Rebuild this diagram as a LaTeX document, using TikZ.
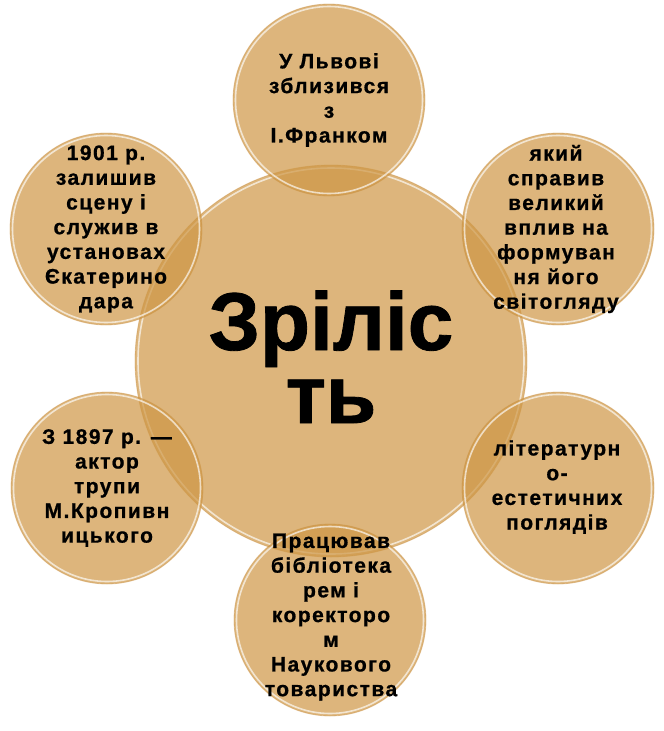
\documentclass[tikz,border=0pt]{standalone}
\usepackage{fontspec}
\setmainfont{Liberation Sans}
\definecolor{disc}{RGB}{206,150,68}
\definecolor{rimdark}{RGB}{200,140,60}
\tikzset{
  bigdisc/.style={circle, minimum size=392pt, inner sep=0pt, fill=disc, fill opacity=0.7, draw=none},
  satdisc/.style={circle, minimum size=192pt, inner sep=0pt, fill=disc, fill opacity=0.7, draw=none},
  rimout/.style={draw=rimdark, draw opacity=0.4, line width=0.8pt},
  rimin/.style={draw=white, draw opacity=0.65, line width=1.6pt},
  sattext/.style={align=center, inner sep=0pt, text=black,
    font=\fontsize{21}{24.7}\selectfont\bfseries\addfontfeature{LetterSpace=7,FakeBold=0.8}},
  bigtext/.style={inner sep=0pt, text=black,
    font=\fontsize{82}{73}\selectfont\bfseries\addfontfeature{FakeBold=1}}
}
\begin{document}
\begin{tikzpicture}[x=1pt,y=-1pt]
\useasboundingbox (0,0) rectangle (664,731);
% central disc
\node[bigdisc] (core) at (331,361) {};
\draw[rimout] (core.center) circle (196pt);
\draw[rimin] (core.center) circle (193pt);
% satellites
\node[satdisc] (s1) at (329,100) {};
\node[satdisc] (s2) at (558,229) {};
\node[satdisc] (s3) at (558,488) {};
\node[satdisc] (s4) at (330,620) {};
\node[satdisc] (s5) at (107,488) {};
\node[satdisc] (s6) at (106,229) {};
\foreach \n in {s1,s2,s3,s4,s5,s6}{
  \draw[rimout] (\n.center) circle (96pt);
  \draw[rimin] (\n.center) circle (93.5pt);
}
% texts
\node[bigtext, anchor=base] (tc1) at (331,350) {Зріліс};
\node[bigtext, anchor=base] (tc2) at (331,423) {ть};
\node[sattext] (t1) at (329,100) {У Львові\\зблизився\\з\\І.Франком};
\node[sattext] (t2) at (556,229) {який\\справив\\великий\\вплив на\\формуван\\ня його\\світогляду};
\node[sattext] (t3) at (557,487) {літературн\\о-\\естетичних\\поглядів};
\node[sattext] (t4) at (331,617) {Працював\\бібліотека\\рем і\\коректоро\\м\\Наукового\\товариства};
\node[sattext] (t5) at (107,488) {З 1897 р. —\\актор\\трупи\\М.Кропивн\\ицького};
\node[sattext] (t6) at (106,229) {1901 р.\\залишив\\сцену і\\служив в\\установах\\Єкатерино\\дара};
\end{tikzpicture}
\end{document}
